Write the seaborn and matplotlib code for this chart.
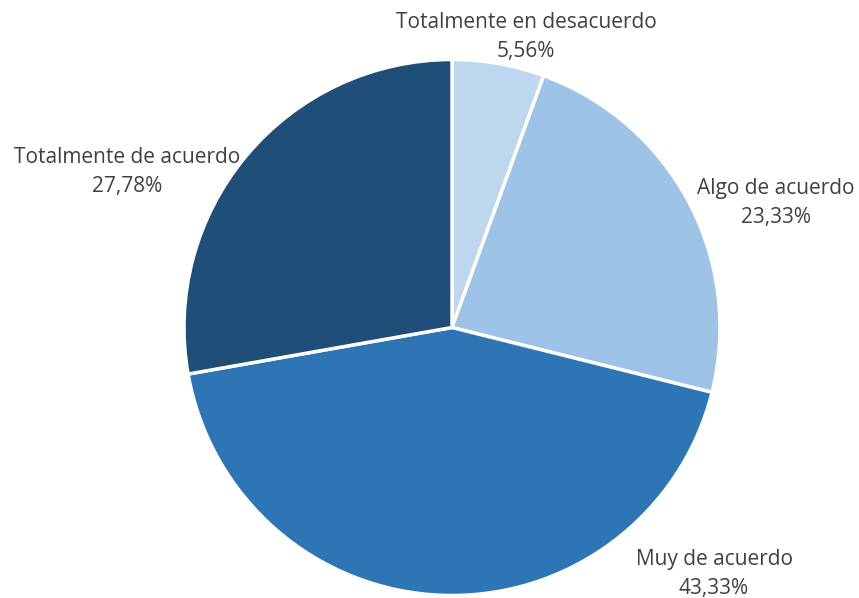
import matplotlib
matplotlib.use("Agg")
import matplotlib.pyplot as plt
import seaborn as sns

categories = ["Totalmente en desacuerdo", "Algo de acuerdo", "Muy de acuerdo", "Totalmente de acuerdo"]
values = [5.56, 23.33, 43.33, 27.78]
pct_labels = ["5,56%", "23,33%", "43,33%", "27,78%"]

colors = ["#BDD7EE", "#9DC3E6", "#2E75B6", "#1F4E79"]
# label centres (pixels from top-left) for layout
label_xy = [(526, 37), (776, 203), (714, 574), (127, 172)]

sns.set_theme(style="white")
plt.rcParams['font.family'] = ['Open Sans', 'DejaVu Sans']

W, H = 859, 598
fig = plt.figure(figsize=(W / 100, H / 100), dpi=100)
ax = fig.add_axes([0, 0, 1, 1])

cx, cy, r = 452, H - 327.5, 268
ax.pie(values, colors=colors, startangle=90, counterclock=False,
       center=(cx, cy), radius=r, frame=True,
       wedgeprops=dict(edgecolor="white", linewidth=2.5))
ax.set_xlim(0, W)
ax.set_ylim(0, H)
ax.set_axis_off()

for cat, pct, (x, y) in zip(categories, pct_labels, label_xy):
    ax.text(x, H - y, f"{cat}\n{pct}", ha="center", va="center",
            fontsize=15, color="#404040", linespacing=1.45)

fig.savefig("out.png", dpi=100)
